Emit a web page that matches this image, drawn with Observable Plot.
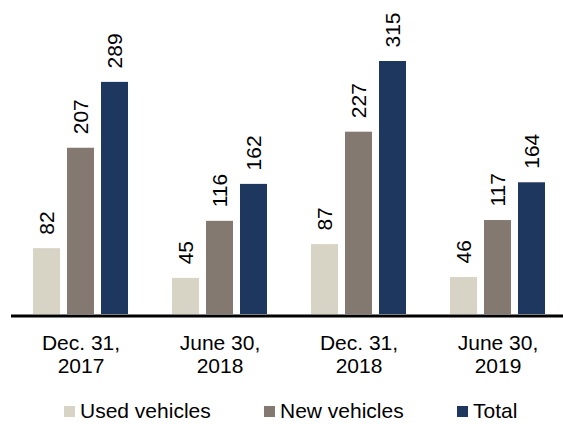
<!DOCTYPE html>
<html><head><meta charset="utf-8">
<script src="https://cdn.jsdelivr.net/npm/d3@7"></script>
<script src="https://cdn.jsdelivr.net/npm/@observablehq/plot@0.6"></script>
<style>
body{margin:0;background:#fff;font-family:"Liberation Sans",Arial,sans-serif;}
#wrap{position:relative;width:563px;height:424px;overflow:hidden;}
#legend{position:absolute;top:399px;left:0;width:563px;height:24px;font-size:21px;line-height:24px;color:#000;}
.item{position:absolute;top:0;display:flex;align-items:center;height:24px;white-space:nowrap;}
.sw{width:11px;height:11px;margin-right:5px;flex:none;}
</style></head><body><div id="wrap"></div>
<script>
const dates = ["Dec. 31,\n2017", "June 30,\n2018", "Dec. 31,\n2018", "June 30,\n2019"];
const series = ["Used vehicles", "New vehicles", "Total"];
const usedVehicles = [82, 45, 87, 46];
const newVehicles = [207, 116, 227, 117];
const totalVehicles = [289, 162, 315, 164];
const colors = ["#d7d3c5", "#847970", "#1e375e"];

const values = [usedVehicles, newVehicles, totalVehicles];
const data = dates.flatMap((d, i) => series.map((s, j) => ({date: d, series: s, value: values[j][i]})));

const font = '"Liberation Sans", Arial, sans-serif';
const chart = Plot.plot({
  width: 563, height: 390,
  marginTop: 61, marginBottom: 76, marginLeft: 9, marginRight: 0,
  style: {fontFamily: font, fontSize: "21px", color: "#000", background: "#fff"},
  fx: {domain: dates, paddingInner: 0.2, paddingOuter: 0.0786, align: 0.636, label: null},
  x: {domain: series, padding: 0.2, axis: null},
  y: {domain: [0, 315], axis: null},
  color: {domain: series, range: colors},
  marks: [
    Plot.barY(data, {fx: "date", x: "series", y: "value", fill: "series"}),
    Plot.text(data, {fx: "date", x: "series", y: "value", text: d => String(d.value), rotate: -90, textAnchor: "start", dy: -14, fontSize: 21, fill: "#000"}),
    Plot.ruleY([0], {stroke: "#000", strokeWidth: 3, dy: 1.5, insetLeft: -14, insetRight: -14}),
    Plot.axisFx({anchor: "bottom", tickSize: 0, tickPadding: 19, fontSize: 21, lineHeight: 1.1, label: null, fill: "#000"})
  ]
});
const wrap = document.getElementById("wrap");
wrap.appendChild(chart);

const legend = document.createElement("div");
legend.id = "legend";
const lefts = [64, 264, 457];
series.forEach((s, i) => {
  const item = document.createElement("div");
  item.className = "item";
  item.style.left = lefts[i] + "px";
  const sw = document.createElement("span");
  sw.className = "sw";
  sw.style.background = colors[i];
  const t = document.createElement("span");
  t.textContent = s;
  item.appendChild(sw); item.appendChild(t);
  legend.appendChild(item);
});
wrap.appendChild(legend);
</script>
</body></html>
